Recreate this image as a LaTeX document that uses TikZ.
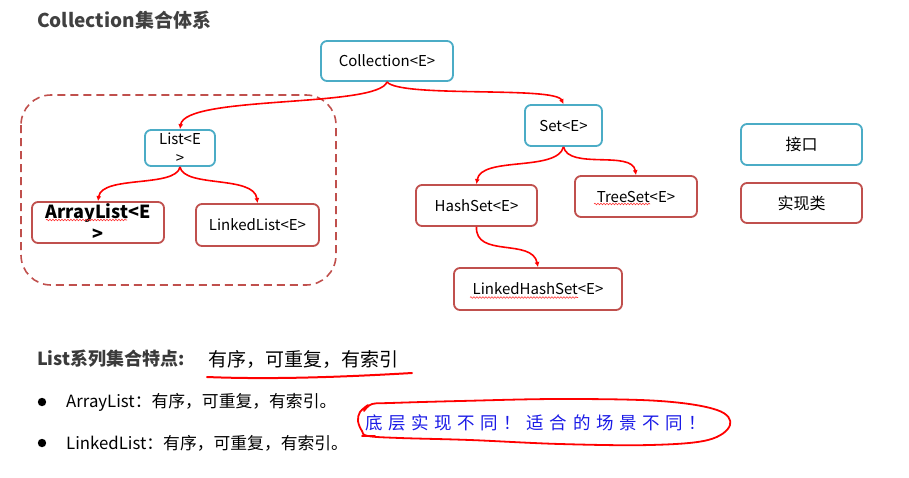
\documentclass[tikz,border=0pt]{standalone}
\usepackage{fontspec}
\setmainfont{Noto Sans CJK SC}
\usetikzlibrary{arrows.meta,decorations.pathmorphing}
\definecolor{ifblue}{HTML}{4BACC6}
\definecolor{imred}{HTML}{C0504D}
\definecolor{titlegray}{HTML}{404040}
\definecolor{hand}{HTML}{1A1AE6}
\tikzset{
  box/.style={draw, rounded corners=6pt, line width=1.8pt, fill=white, inner sep=0pt, align=center, font=\fontsize{15}{18}\selectfont},
  ibox/.style={box, draw=ifblue},
  cbox/.style={box, draw=imred},
  conn/.style={draw=red, line width=1.6pt, -{Latex[length=5pt,width=5pt]}},
  spell/.style={draw=red!80, line width=0.6pt, decorate, decoration={snake, amplitude=0.8pt, segment length=3pt}},
}
\begin{document}
\begin{tikzpicture}[x=1pt,y=-1pt]
\useasboundingbox (0,0) rectangle (909,477);
% dashed group
\draw[imred, line width=1.6pt, dash pattern=on 8pt off 5pt, rounded corners=30pt] (21,95) rectangle (336,285);
% title
\node[anchor=west, font=\fontsize{19}{22}\selectfont\bfseries, text=titlegray, inner sep=0pt] (title) at (37,20) {Collection集合体系};
% nodes
\node[ibox, minimum width=132pt, minimum height=40pt] (coll) at (387,61) {Collection<E>};
\node[ibox, minimum width=70pt, minimum height=36pt, font=\fontsize{15}{19}\selectfont] (list) at (180,148) {List<E\\>};
\node[cbox, minimum width=132pt, minimum height=41pt, font=\fontsize{18}{22}\selectfont\bfseries] (arr) at (98,222.5) {ArrayList<E\\>};
\node[cbox, minimum width=123pt, minimum height=42pt] (llist) at (257.5,225) {LinkedList<E>};
\node[ibox, minimum width=77pt, minimum height=41pt] (set) at (563.5,125.5) {Set<E>};
\node[cbox, minimum width=121pt, minimum height=41pt] (hash) at (476.5,205.5) {HashSet<E>};
\node[cbox, minimum width=122pt, minimum height=41pt] (tree) at (636,196.5) {TreeSet<E>};
\node[cbox, minimum width=168pt, minimum height=42pt] (lhs) at (538,289) {LinkedHashSet<E>};
\node[ibox, minimum width=121pt, minimum height=41pt, font=\fontsize{16}{18}\selectfont] (iface) at (801.5,144.5) {接口};
\node[cbox, minimum width=121pt, minimum height=40pt, font=\fontsize{16}{18}\selectfont] (impl) at (801.5,203) {实现类};
% spell-check underlines
\draw[spell] (46,220) -- (127,220);
\draw[spell] (594,204) -- (650,204);
\draw[spell] (470,297.5) -- (578,297.5);
% connectors
\path[conn] (coll.south) .. controls (378,108) and (185,95) .. (list.north);
\path[conn] (coll.south) .. controls (400,98) and (555,86) .. (set.north);
\path[conn] (list.south) .. controls (176,188) and (102,175) .. (arr.north);
\path[conn] (list.south) .. controls (184,188) and (254,175) .. (llist.north);
\path[conn] (set.south) .. controls (557,172) and (481,156) .. (hash.north);
\path[conn] (set.south) .. controls (569,170) and (632,150) .. (tree.north);
\path[conn] (hash.south) .. controls (475,258) and (532,238) .. (lhs.north);
% bottom text
\node[anchor=west, font=\fontsize{18}{22}\selectfont\bfseries, text=titlegray!90!black, inner sep=0pt] (feat) at (37,359) {List系列集合特点:};
\node[anchor=west, font=\fontsize{19}{22}\selectfont, inner sep=0pt] (featv) at (208,359) {有序，可重复，有索引};
\draw[red, line width=2pt, line cap=round] (207,377) .. controls (280,380) and (360,376) .. (412,373);
\fill (42,402) circle (4.2pt);
\fill (42,443) circle (4.2pt);
\node[anchor=west, font=\fontsize{16.8}{20}\selectfont, inner sep=0pt] (b1) at (66,402) {ArrayList：有序，可重复，有索引。};
\node[anchor=west, font=\fontsize{16.8}{20}\selectfont, inner sep=0pt] (b2) at (66,443) {LinkedList：有序，可重复，有索引。};
% handwritten note
\node[anchor=west, font=\fontsize{17.5}{20}\selectfont\addfontfeatures{LetterSpace=32}, text=hand, inner sep=0pt] (note) at (365,423) {底层实现不同！适合的场景不同！};
\draw[red, line width=1.8pt, line cap=round] plot[smooth, tension=0.6] coordinates {
 (368,405) (360,412) (358,421) (362,431) (368,436) (400,438) (470,440) (560,444) (650,445) (708,440) (730,425) (717,410) (660,401) (560,399) (460,401) (390,403) (372,404) (364,411)};
\draw[red, line width=1.8pt, line cap=round] (362,436) -- (375,436);
\end{tikzpicture}
\end{document}
